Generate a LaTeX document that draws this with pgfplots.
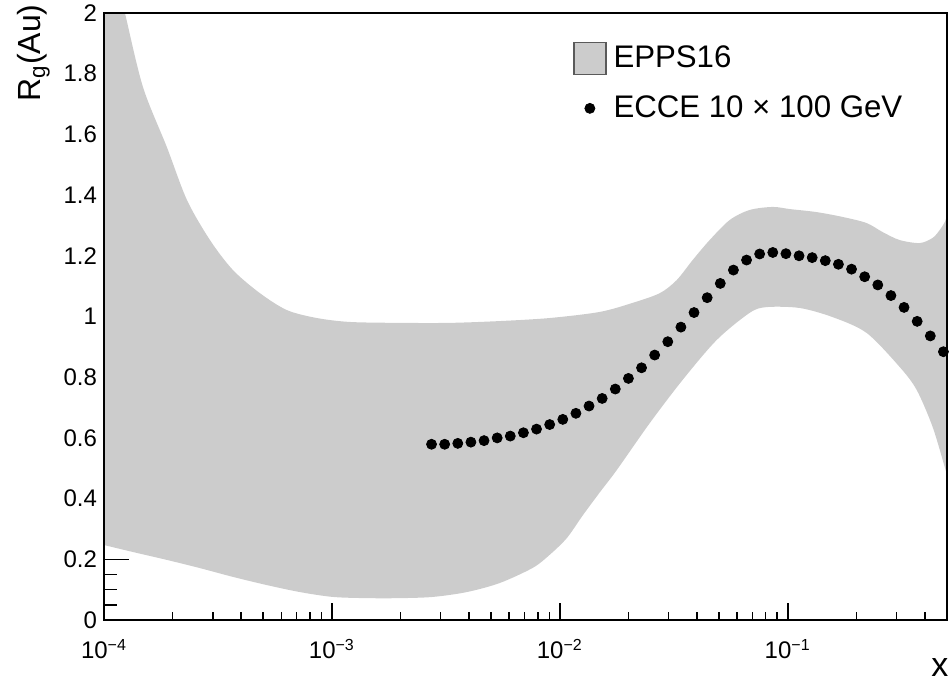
\documentclass[border=0pt]{standalone}
\usepackage{fontspec}
\setmainfont{Liberation Sans}
\usepackage{pgfplots}
\pgfplotsset{compat=1.18}
\definecolor{bandgray}{RGB}{204,204,204}
\definecolor{boxedge}{RGB}{90,90,90}
\begin{document}
\begin{tikzpicture}
% axis carrying the y ticks (drawn first, so the band covers them)
\begin{axis}[name=ay,
  width=421.5pt, height=303.5pt, scale only axis,
  at={(0,0)}, anchor=south west,
  xmode=log, xmin=1e-4, xmax=0.5, ymin=0, ymax=2,
  tick align=inside,
  tick style={black, line width=0.8pt},
  axis line style={draw=none},
  /pgf/number format/assume math mode=true,
  ticklabel style={font=\fontsize{12}{14}\selectfont},
  xtick=\empty,
  ytick={0,0.2,0.4,0.6,0.8,1,1.2,1.4,1.6,1.8,2},
  minor y tick num=3,
  ytick pos=left,
  major tick length=12.5pt, minor tick length=6.3pt,
]
\end{axis}
\begin{axis}[name=ax,
  width=421.5pt, height=303.5pt, scale only axis,
  at={(0,0)}, anchor=south west,
  xmode=log, xmin=1e-4, xmax=0.5, ymin=0, ymax=2,
  tick align=inside,
  tick style={black, line width=0.8pt},
  axis line style={draw=none},
  ticklabel style={font=\fontsize{12}{14}\selectfont},
  xticklabel style={yshift=-6pt},
  ytick=\empty,
  xtick={1e-4,1e-3,1e-2,1e-1},
  xticklabels={10\textsuperscript{−4},10\textsuperscript{−3},10\textsuperscript{−2},10\textsuperscript{−1}},
  minor xtick={2e-4,3e-4,4e-4,5e-4,6e-4,7e-4,8e-4,9e-4,2e-3,3e-3,4e-3,5e-3,6e-3,7e-3,8e-3,9e-3,2e-2,3e-2,4e-2,5e-2,6e-2,7e-2,8e-2,9e-2,2e-1,3e-1,4e-1},
  xtick pos=bottom,
  major tick length=8.7pt, minor tick length=4.2pt,
  xlabel={x},
  xlabel style={at={(axis description cs:1.002,-0.093)}, anchor=base east, inner sep=0pt, font=\fontsize{17}{20}\selectfont},
  ylabel={R\textsubscript{g}(Au)},
  ylabel style={at={(axis description cs:-0.0759,1.0148)}, anchor=base east, inner sep=0pt, font=\fontsize{16}{19}\selectfont},
  legend style={at={(axis description cs:0.556,0.9536)}, anchor=north west, draw=none, fill=none,
    font=\fontsize{15.6}{18}\selectfont, row sep=8.5pt, inner sep=0pt, cells={anchor=west},
    /tikz/every odd column/.append style={column sep=1.5pt}},
]
\addplot[fill=bandgray, draw=none, smooth, tension=0.5,
  legend image code/.code={\draw[fill=bandgray, draw=boxedge, line width=0.7pt] (0.5pt,-8pt) rectangle (16.5pt,8pt);}]
coordinates {
(1e-4,2.30) (1.236e-4,2.00) (1.483e-4,1.756) (1.888e-4,1.558) (2.312e-4,1.384) (2.917e-4,1.252)
(3.681e-4,1.153) (4.831e-4,1.077) (6.353e-4,1.021) (8.590e-4,0.995) (1.199e-3,0.982) (1.986e-3,0.979)
(3.296e-3,0.979) (5.458e-3,0.985) (9.036e-3,0.995) (1.496e-2,1.015) (2.089e-2,1.045) (2.748e-2,1.077)
(3.258e-2,1.12) (3.828e-2,1.186) (4.547e-2,1.252) (5.567e-2,1.318) (6.808e-2,1.351) (8.590e-2,1.361)
(0.1021,1.354) (0.1340,1.344) (0.1742,1.328) (0.2218,1.308) (0.2612,1.278) (0.3097,1.252)
(0.3793,1.242) (0.4325,1.259) (0.4645,1.285) (0.4887,1.311) (0.5,1.33) (0.56,1.42)
(0.56,0.36) (0.5,0.48) (0.4887,0.504) (0.4325,0.636) (0.3681,0.758) (0.3097,0.834) (0.2218,0.946)
(0.1574,0.998) (0.1130,1.028) (8.091e-2,1.031) (6.808e-2,1.012) (4.887e-2,0.923) (3.459e-2,0.791)
(2.483e-2,0.649) (1.778e-2,0.494) (1.496e-2,0.42) (1.262e-2,0.345) (1.074e-2,0.27) (9.036e-3,0.215)
(7.621e-3,0.172) (5.458e-3,0.122) (3.908e-3,0.092) (2.773e-3,0.076) (1.986e-3,0.072) (1.426e-3,0.072)
(1.009e-3,0.076) (7.244e-4,0.092) (5.188e-4,0.115) (3.681e-4,0.142) (2.636e-4,0.171) (1.888e-4,0.198)
(1.340e-4,0.224) (1e-4,0.247)
};
\addlegendentry{EPPS16}
\addplot[only marks, mark=*, mark size=2.5pt, black]
coordinates {
(2.737e-3,0.579) (3.125e-3,0.579) (3.568e-3,0.582) (4.074e-3,0.586) (4.652e-3,0.591)
(5.312e-3,0.600) (6.065e-3,0.606) (6.925e-3,0.617) (7.907e-3,0.629) (9.028e-3,0.644)
(1.0308e-2,0.661) (1.1770e-2,0.681) (1.3439e-2,0.705) (1.5345e-2,0.730) (1.7521e-2,0.761)
(2.0005e-2,0.796) (2.2842e-2,0.831) (2.6081e-2,0.873) (2.9779e-2,0.917) (3.4002e-2,0.965)
(3.8823e-2,1.013) (4.4328e-2,1.062) (5.0614e-2,1.109) (5.7791e-2,1.153) (6.5986e-2,1.186)
(7.5343e-2,1.206) (8.6027e-2,1.211) (9.8226e-2,1.207) (0.11215,1.200) (0.12806,1.194)
(0.14622,1.184) (0.16695,1.172) (0.19063,1.156) (0.21766,1.131) (0.24852,1.104)
(0.28376,1.069) (0.32400,1.030) (0.36994,0.984) (0.42240,0.936) (0.48230,0.884)
};
\addlegendentry{ECCE 10 × 100 GeV}
\end{axis}
\draw[line width=1.2pt] (ax.south west) rectangle (ax.north east);
\pgfresetboundingbox
\path[use as bounding box] ([xshift=-52pt,yshift=-30.5pt]ax.south west) rectangle ([xshift=1pt,yshift=6.5pt]ax.north east);
\end{tikzpicture}
\end{document}
